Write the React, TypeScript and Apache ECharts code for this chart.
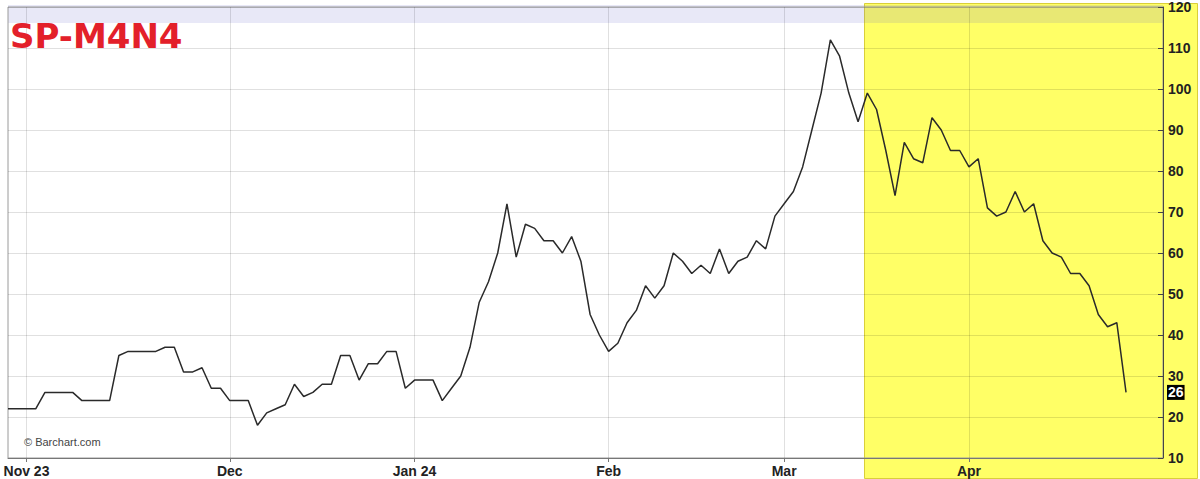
import React, { useEffect, useRef } from "react";
import * as echarts from "echarts";

// ---- data ----
const startDate = "2023-10-30";
const endDate = "2024-04-30";
const holidays = ["2023-12-25", "2024-01-01", "2024-01-15", "2024-02-16", "2024-02-19", "2024-03-29"];
const tickMonths = ["2023-11", "2023-12", "2024-01", "2024-02", "2024-03", "2024-04"];
const tickLabels = ["Nov 23", "Dec", "Jan 24", "Feb", "Mar", "Apr"];
const spreadValues = [
  22, 22, 22, 22, 26, 26, 26, 26, 24, 24, 24, 24, 35, 36, 36, 36, 36, 37, 37, 31,
  31, 32, 27, 27, 24, 24, 24, 18, 21, 22, 23, 28, 25, 26, 28, 28, 35, 35, 29, 33,
  33, 36, 36, 27, 29, 29, 29, 24, 27, 30, 37, 48, 53, 60, 72, 59, 67, 66, 63, 63,
  60, 64, 58, 45, 40, 36, 38, 43, 46, 52, 49, 52, 60, 58, 55, 57, 55, 61, 55, 58,
  59, 63, 61, 69, 72, 75, 81, 90, 99, 112, 108, 99, 92, 99, 95, 85, 74, 87, 83, 82,
  93, 90, 85, 85, 81, 83, 71, 69, 70, 75, 70, 72, 63, 60, 59, 55, 55, 52, 45, 42,
  43, 26,
];
const yMin = 10;
const yMax = 120;
const yStep = 10;
const title = "SP-M4N4";
const credit = "© Barchart.com";

function tradingDays(start: string, end: string): string[] {
  const out: string[] = [];
  const d = new Date(start + "T00:00:00Z");
  const e = new Date(end + "T00:00:00Z");
  while (d <= e) {
    const dow = d.getUTCDay();
    const s = d.toISOString().slice(0, 10);
    if (dow !== 0 && dow !== 6 && !holidays.includes(s)) out.push(s);
    d.setUTCDate(d.getUTCDate() + 1);
  }
  return out;
}

const dates = tradingDays(startDate, endDate);
const isMonthStart = (i: number) => {
  if (i <= 0) return false;
  const m = dates[i].slice(0, 7);
  return m !== dates[i - 1].slice(0, 7) && tickMonths.includes(m);
};
const labelFor = (i: number) => tickLabels[tickMonths.indexOf(dates[i].slice(0, 7))];

const NARROW = '"Liberation Sans Narrow", "Arial Narrow", "Liberation Sans", Arial, sans-serif';

export default function App() {
  const ref = useRef<HTMLDivElement>(null);
  useEffect(() => {
    if (!ref.current) return;
    const chart = echarts.init(ref.current, undefined, { renderer: "svg" });
    chart.setOption({
      animation: false,
      backgroundColor: "#ffffff",
      grid: {
        left: 8,
        right: 37,
        top: 5,
        bottom: 21,
        show: true,
        borderColor: "#9a9a9a",
        borderWidth: 1,
        backgroundColor: "transparent",
      },
      graphic: [
        {
          type: "rect",
          z: -10,
          silent: true,
          shape: { x: 864.5, y: 3.5, width: 333, height: 475 },
          style: { fill: "#ffff66", stroke: "#d9cf3a", lineWidth: 1 },
        },
        {
          type: "rect",
          z: -5,
          silent: true,
          shape: { x: 8, y: 5, width: 1155, height: 18 },
          style: { fill: "rgba(100,100,200,0.15)" },
        },
        {
          type: "text",
          z: 10,
          left: 10,
          top: 19,
          style: {
            text: title,
            fill: "#e3202a",
            font: 'bold 34px "DejaVu Sans", Verdana, sans-serif',
          },
        },
        {
          type: "text",
          z: 10,
          left: 24,
          top: 436,
          style: {
            text: credit,
            fill: "#444",
            font: '11px "Liberation Sans", Arial, sans-serif',
          },
        },
      ],
      xAxis: {
        type: "category",
        data: dates,
        boundaryGap: false,
        axisLine: { show: true, lineStyle: { color: "#777", width: 1 } },
        axisTick: {
          show: true,
          interval: (i: number) => isMonthStart(i),
          length: 4,
          lineStyle: { color: "#777" },
        },
        axisLabel: {
          interval: (i: number) => isMonthStart(i),
          formatter: (_v: string, i: number) => labelFor(i),
          color: "#222",
          fontWeight: "bold",
          fontSize: 14,
          fontFamily: NARROW,
          margin: 6,
        },
        splitLine: {
          show: true,
          interval: (i: number) => isMonthStart(i),
          lineStyle: { color: "rgba(0,0,0,0.12)", width: 1 },
        },
      },
      yAxis: {
        type: "value",
        position: "right",
        min: yMin,
        max: yMax,
        interval: yStep,
        axisLine: { show: true, lineStyle: { color: "#444", width: 1 } },
        axisTick: { show: true, inside: true, length: 5, lineStyle: { color: "#444" } },
        axisLabel: {
          color: "#222",
          fontSize: 14,
          fontWeight: "bold",
          fontFamily: NARROW,
          margin: 5,
        },
        splitLine: { show: true, lineStyle: { color: "rgba(0,0,0,0.12)", width: 1 } },
      },
      series: [
        {
          type: "line",
          data: spreadValues,
          showSymbol: false,
          symbol: "none",
          lineStyle: { color: "#2a2a2a", width: 1.5 },
          z: 5,
          markLine: {
            silent: true,
            symbol: "none",
            lineStyle: { color: "rgba(0,0,0,0)", width: 0 },
            data: [{ yAxis: spreadValues[spreadValues.length - 1] }],
            label: {
              show: true,
              position: "end",
              distance: 4,
              formatter: "{c}",
              color: "#fff",
              backgroundColor: "#000",
              padding: [1, 1, 0, 1],
              fontSize: 14,
              fontWeight: "bold",
              fontFamily: NARROW,
            },
          },
        },
      ],
    });
    return () => chart.dispose();
  }, []);
  return (
    <div
      ref={ref}
      style={{ position: "fixed", left: 0, top: 0, width: 1200, height: 479, background: "#fff" }}
    />
  );
}
